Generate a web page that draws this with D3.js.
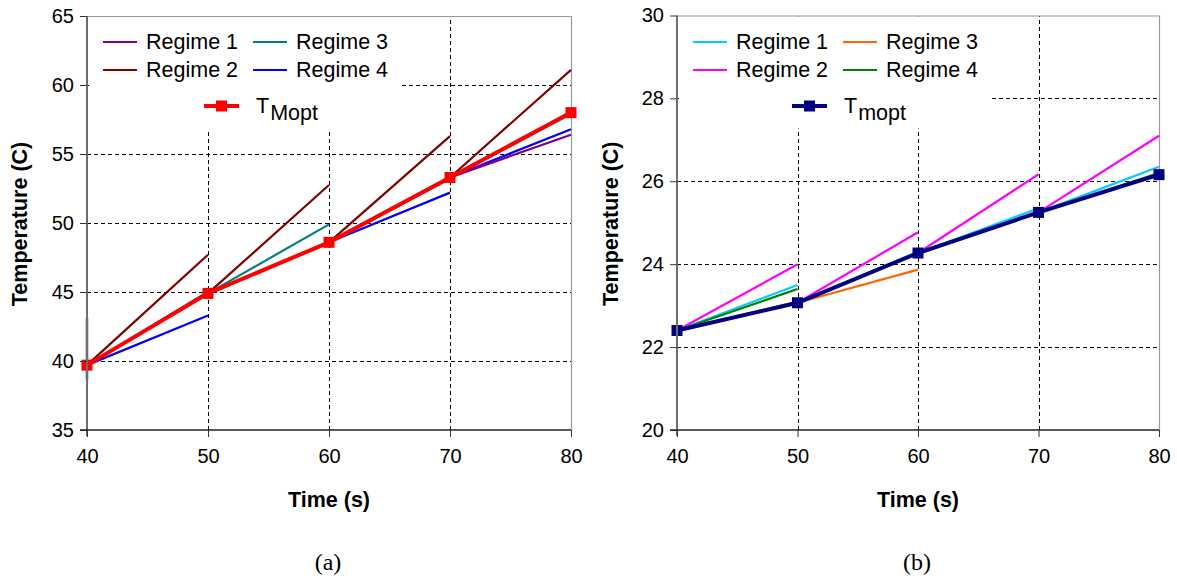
<!DOCTYPE html>
<html>
<head>
<meta charset="utf-8">
<script src="https://cdn.jsdelivr.net/npm/d3@7"></script>
<style>
  html, body { margin: 0; padding: 0; background: #ffffff; }
  svg { display: block; }
</style>
</head>
<body>
<svg id="chart" width="1177" height="580" font-family='"Liberation Sans", Arial, sans-serif'></svg>
<script>
// ---------- DATA ----------
const times = [40, 50, 60, 70, 80];
const regimeNames = ["Regime 1", "Regime 2", "Regime 3", "Regime 4"];

// Panel (a): optimal temperature and end value of each regime over each 10 s interval
const tMoptA   = [39.7, 44.9, 48.6, 53.3, 58.0];
const regime1A = [45.0, 48.6, 53.3, 56.4];
const regime2A = [47.7, 52.75, 56.3, 61.1];
const regime3A = [45.0, 49.9, 53.2, 57.9];
const regime4A = [43.3, 48.6, 52.2, 56.8];
const edgeR1A  = [43.1, 39.7];   // short vertical trace at t = 40
const edgeR4A  = [39.7, 38.6];
const yTicksA  = [35, 40, 45, 50, 55, 60, 65];

// Panel (b)
const tMoptB   = [22.4, 23.07, 24.27, 25.25, 26.16];
const regime1B = [23.5, 24.3, 25.35, 26.35];
const regime2B = [24.0, 24.77, 26.17, 27.1];
const regime3B = [23.1, 23.87, 25.25, 26.16];
const regime4B = [23.4, 24.27, 25.25, 26.2];
const yTicksB  = [20, 22, 24, 26, 28, 30];

const xTicks = [40, 50, 60, 70, 80];

// ---------- DRAW ----------
const svg = d3.select("#chart");
const SANS = '"Liberation Sans", Arial, sans-serif';

function panel(cfg) {
  const g = svg.append("g");
  const x = d3.scaleLinear().domain([40, 80]).range([cfg.x0, cfg.x1]);
  const y = d3.scaleLinear().domain(cfg.yDomain).range([cfg.y0, cfg.y1]);

  // gridlines
  const grid = g.append("g").attr("stroke", "#000").attr("stroke-width", 1)
    .attr("stroke-dasharray", "4,3").attr("shape-rendering", "crispEdges");
  cfg.yTicks.slice(1, -1).forEach(v => {
    grid.append("line").attr("x1", cfg.x0).attr("x2", cfg.x1)
      .attr("y1", Math.round(y(v)) + 0.5).attr("y2", Math.round(y(v)) + 0.5);
  });
  xTicks.slice(1, -1).forEach(v => {
    grid.append("line").attr("y1", cfg.y0).attr("y2", cfg.y1)
      .attr("x1", Math.round(x(v)) + 0.5).attr("x2", Math.round(x(v)) + 0.5);
  });

  // legend background
  g.append("rect").attr("x", cfg.x0 + 2).attr("y", cfg.y1 + 1)
    .attr("width", cfg.legW).attr("height", 112).attr("fill", "#fff");

  // frame top/right
  g.append("path")
    .attr("d", `M${cfg.x0},${cfg.y1 + 0.5}H${cfg.x1 + 0.5}V${cfg.y0}`)
    .attr("fill", "none").attr("stroke", "#999").attr("stroke-width", 1.2);

  const line = d3.line().x(d => x(d[0])).y(d => y(d[1]));

  // edge traces
  (cfg.edges || []).forEach(e => {
    g.append("path").datum([[40, e.vals[0]], [40, e.vals[1]]]).attr("d", line)
      .attr("fill", "none").attr("stroke", e.color).attr("stroke-width", 3).attr("opacity", 0.6);
  });

  // regime segments
  cfg.order.forEach(ri => {
    const ends = cfg.regimes[ri];
    for (let i = 0; i < ends.length; i++) {
      const seg = [[times[i], cfg.tMopt[i]], [times[i + 1], ends[i]]];
      g.append("path").datum(seg).attr("d", line).attr("fill", "none")
        .attr("stroke", cfg.colors[ri]).attr("stroke-width", 2.2);
    }
  });

  // T_opt line and markers
  const tData = times.map((t, i) => [t, cfg.tMopt[i]]);
  g.append("path").datum(tData).attr("d", line).attr("fill", "none")
    .attr("stroke", cfg.tColor).attr("stroke-width", 4);
  g.selectAll("rect.mk").data(tData).join("rect").attr("class", "mk")
    .attr("x", d => x(d[0]) - cfg.mk / 2).attr("y", d => y(d[1]) - cfg.mk / 2)
    .attr("width", cfg.mk).attr("height", cfg.mk).attr("fill", cfg.tColor);

  // axes
  const yAxis = g.append("g").attr("transform", `translate(${cfg.x0},0)`)
    .call(d3.axisLeft(y).tickValues(cfg.yTicks).tickSize(7).tickPadding(6).tickFormat(d3.format("d")));
  yAxis.attr("font-family", SANS).attr("font-size", 20);
  yAxis.select(".domain").attr("stroke", "#6e6e6e").attr("stroke-width", 2).attr("d", `M0,${cfg.y0 + 6}V${cfg.y1}`);
  yAxis.selectAll(".tick line").attr("stroke", "#333");
  yAxis.selectAll(".tick text").attr("fill", "#000");

  const xAxis = g.append("g").attr("transform", `translate(0,${cfg.y0})`)
    .call(d3.axisBottom(x).tickValues(xTicks).tickSize(7).tickPadding(12).tickFormat(d3.format("d")));
  xAxis.attr("font-family", SANS).attr("font-size", 20);
  xAxis.select(".domain").attr("stroke", "#222").attr("stroke-width", 1.3).attr("d", `M${cfg.x0 - 7},0H${cfg.x1}`);
  xAxis.selectAll(".tick line").attr("stroke", "#333");
  xAxis.selectAll(".tick text").attr("fill", "#000");

  // titles
  g.append("text").attr("x", (cfg.x0 + cfg.x1) / 2).attr("y", 507)
    .attr("text-anchor", "middle").attr("font-weight", "bold").attr("font-size", 21.5)
    .text("Time (s)");
  g.append("text").attr("transform", `translate(${cfg.yTitleX},${(cfg.y0 + cfg.y1) / 2 + 1}) rotate(-90)`)
    .attr("text-anchor", "middle").attr("font-weight", "bold").attr("font-size", 21.5)
    .text("Temperature (C)");
  g.append("text").attr("x", (cfg.x0 + cfg.x1) / 2 - 1).attr("y", 570)
    .attr("text-anchor", "middle").attr("font-size", 24)
    .style("font-family", '"Liberation Serif", "Times New Roman", serif')
    .text(cfg.caption);

  // legend
  const lg = g.append("g");
  const lx = cfg.x0;
  const pos = [[16, 42], [16, 70], [166, 42], [166, 70]];
  regimeNames.forEach((name, i) => {
    const [dx, yy] = pos[i];
    lg.append("line").attr("x1", lx + dx).attr("x2", lx + dx + 34).attr("y1", yy).attr("y2", yy)
      .attr("stroke", cfg.colors[i]).attr("stroke-width", 2.2);
    lg.append("text").attr("x", lx + dx + 43).attr("y", yy + 7).attr("font-size", 21.5).text(name);
  });
  const ty = 106;
  lg.append("line").attr("x1", lx + cfg.tLegX).attr("x2", lx + cfg.tLegX + 35).attr("y1", ty).attr("y2", ty)
    .attr("stroke", cfg.tColor).attr("stroke-width", 4);
  lg.append("rect").attr("x", lx + cfg.tLegX + 17.5 - cfg.mk / 2).attr("y", ty - cfg.mk / 2)
    .attr("width", cfg.mk).attr("height", cfg.mk).attr("fill", cfg.tColor);
  const tt = lg.append("text").attr("x", lx + cfg.tLegX + 52).attr("y", 113).attr("font-size", 21.5);
  tt.append("tspan").text("T");
  tt.append("tspan").attr("dy", 7).attr("dx", 1).text(cfg.tSub);
}

panel({
  x0: 87, x1: 571, y0: 430, y1: 16,
  yDomain: [35, 65], yTicks: yTicksA,
  tMopt: tMoptA,
  regimes: [regime1A, regime2A, regime3A, regime4A],
  colors: ["#800080", "#800000", "#008080", "#0000FF"],
  order: [2, 1, 3, 0],
  edges: [{vals: edgeR1A, color: "#a0408a"}, {vals: edgeR4A, color: "#3a3aff"}],
  tColor: "#FF0000", tSub: "Mopt", mk: 11,
  legW: 311, tLegX: 117, yTitleX: 27, caption: "(a)"
});

panel({
  x0: 677, x1: 1159, y0: 430, y1: 15.5,
  yDomain: [20, 30], yTicks: yTicksB,
  tMopt: tMoptB,
  regimes: [regime1B, regime2B, regime3B, regime4B],
  colors: ["#00CCFF", "#FF00FF", "#FF6600", "#008000"],
  order: [2, 1, 0, 3],
  edges: [],
  tColor: "#000080", tSub: "mopt", mk: 11,
  legW: 310, tLegX: 115, yTitleX: 618, caption: "(b)"
});
</script>
</body>
</html>
